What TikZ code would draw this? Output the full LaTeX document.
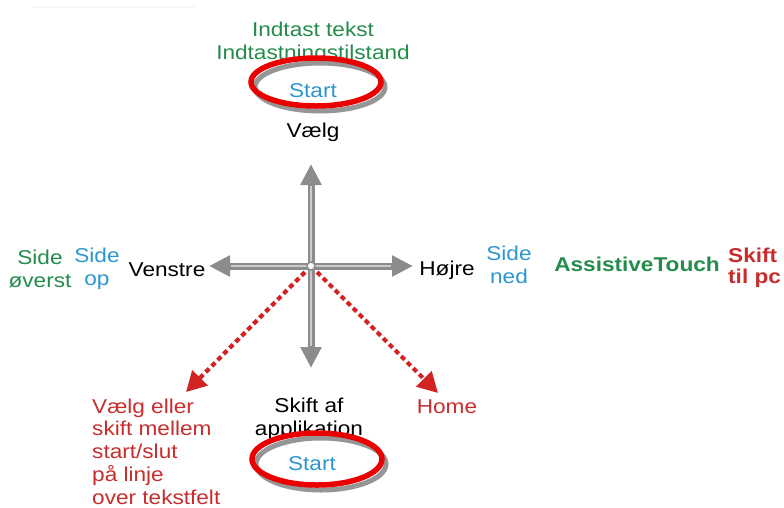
\documentclass[tikz,border=0pt]{standalone}
\usepackage{fontspec}
\setmainfont{Liberation Sans}[FakeStretch=1.13]
\usetikzlibrary{arrows.meta}
\definecolor{tgreen}{RGB}{35,140,75}
\definecolor{tblue}{RGB}{45,150,205}
\definecolor{tred}{RGB}{200,45,45}
\definecolor{ellred}{RGB}{235,0,0}
\definecolor{arrred}{RGB}{210,35,35}
\definecolor{shadowgray}{RGB}{150,150,150}
\tikzset{
  lbl/.style={anchor=base, align=center},
  lbll/.style={anchor=base west, align=left},
  shaft/.style={line width=7pt, draw=black!45, -{Triangle[length=21pt,width=20pt]}},
  hilite/.style={line width=2pt, draw=white, opacity=0.55},
  redarrow/.style={line width=4.2pt, draw=arrred, dash pattern=on 5pt off 3.5pt, -{Triangle[length=20pt,width=21pt]}},
  ringred/.style={draw=ellred, line width=5.5pt},
  ringshadow/.style={draw=shadowgray, line width=5pt, fill=white},
}
\begin{document}
\begin{tikzpicture}[x=1pt,y=-1pt, every node/.style={inner sep=0pt, font=\fontsize{20}{23}\selectfont}]
\useasboundingbox (0,0) rectangle (784,507);
\draw[black!3, line width=2pt] (32,7) -- (195,7);

% coordinates
\coordinate (c) at (311,266);
\coordinate (up) at (311,164);
\coordinate (down) at (311,368);
\coordinate (left) at (209,266);
\coordinate (right) at (413,266);
\coordinate (dl) at (186,392);
\coordinate (dr) at (438,393);

% red dashed arrows
\draw[redarrow] (c) -- (dl);
\draw[redarrow] (c) -- (dr);

% gray cross
\foreach \t in {up,down,left,right}{
  \draw[shaft] (c) -- (\t);
  \draw[hilite, shorten >=22pt] (c) -- (\t);
}
\node[circle, fill=white, draw=black!45, line width=1.5pt, minimum size=8pt] (hub) at (c) {};

% texts (multi-line nodes: base = last line baseline)
\node[lbl, text=tgreen] (entry) at (313,59) {Indtast tekst\\Indtastningstilstand};
\node[lbl] (vaelg) at (313,137) {Vælg};
\node[lbl] (venstre) at (167,276) {Venstre};
\node[lbl, text=tblue] (sideop) at (97,285) {Side\\op};
\node[lbl, text=tgreen] (sideoverst) at (40,287) {Side\\øverst};
\node[lbl] (hojre) at (447,275) {Højre};
\node[lbl, text=tblue] (sidened) at (509,283) {Side\\ned};
\node[lbl, text=tgreen, font=\fontsize{20}{23}\selectfont\bfseries] (assist) at (637,271) {AssistiveTouch};
\node[lbll, text=tred, font=\fontsize{20}{21}\selectfont\bfseries] (skiftpc) at (728,283) {Skift\\til pc};
\node[lbl] (skiftaf) at (309,435) {Skift af\\applikation};
\node[lbl, text=tred] (home) at (447,413) {Home};
\node[lbll, text=tred, font=\fontsize{20}{22.75}\selectfont] (vaelgeller) at (92,504) {Vælg eller\\skift mellem\\start/slut\\på linje\\over tekstfelt};

% rings
\draw[ringshadow] (320,87) ellipse [x radius=65, y radius=24];
\draw[ringred] (316,82) ellipse [x radius=65, y radius=24];
\draw[ringshadow] (321,464) ellipse [x radius=65, y radius=26];
\draw[ringred] (317,459) ellipse [x radius=65, y radius=26];

\node[lbl, text=tblue] (starttop) at (313,97) {Start};
\node[lbl, text=tblue] (startbot) at (312,470) {Start};
\end{tikzpicture}
\end{document}
